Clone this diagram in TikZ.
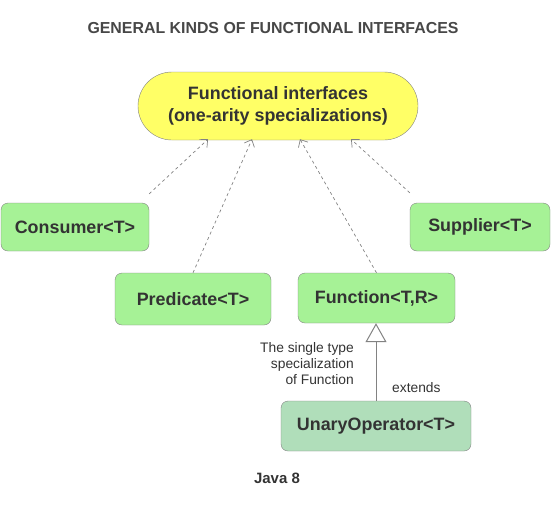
\documentclass[tikz,border=0pt]{standalone}
\usepackage{fontspec}
\setmainfont{Liberation Sans}
\usetikzlibrary{arrows.meta,positioning,calc}
\definecolor{txt}{RGB}{51,51,51}
\definecolor{edge}{RGB}{130,130,130}
\definecolor{boxgreen}{RGB}{166,242,150}
\definecolor{opgreen}{RGB}{176,222,186}
\definecolor{topyellow}{RGB}{255,255,102}
\tikzset{
  iface/.style={draw=edge,fill=boxgreen,rounded corners=7pt,inner sep=0pt,
    minimum height=48pt,text=txt,font=\fontsize{17.9}{21}\selectfont\bfseries},
  root/.style={draw=edge,fill=topyellow,rounded corners=34pt,inner sep=0pt,
    minimum width=280pt,minimum height=68pt,align=center,text=txt,
    font=\fontsize{17.9}{22}\selectfont\bfseries},
  dep/.style={-{Straight Barb[length=6pt,width=11pt]},edge,dashed,
    dash pattern=on 3pt off 3pt,line width=0.7pt},
  ext/.style={-{Triangle[open,length=19pt,width=21pt,fill=white]},edge,line width=1pt},
  note/.style={text=txt,inner sep=0pt,font=\fontsize{13.8}{16}\selectfont}
}
\begin{document}
\begin{tikzpicture}[x=1pt,y=-1pt]
  \useasboundingbox (0,0) rectangle (551,504);
  % title
  \node[text=txt!90!white,font=\fontsize{15.9}{18}\selectfont\bfseries] (title) at (273,28)
    {GENERAL KINDS OF FUNCTIONAL INTERFACES};
  % the common parent
  \node[root] (top) at (278,106) {Functional interfaces\\(one-arity specializations)};
  % the specializations
  \node[iface,minimum width=148pt] (cons) at (75,227) {Consumer<T>};
  \node[iface,minimum width=140pt] (supp) at (480,227) {Supplier<T>};
  \node[iface,minimum width=156pt,minimum height=52pt] (pred) at (193,299) {Predicate<T>};
  \node[iface,minimum width=157pt,minimum height=50pt] (func) at (376.5,298) {Function<T,R>};
  \node[iface,fill=opgreen,minimum width=190pt,minimum height=50pt] (unary) at (376,426)
    {UnaryOperator<T>};
  % where the dependency arrows meet the parent
  \coordinate (t1) at ([xshift=-70pt,yshift=1pt]top.south);
  \coordinate (t2) at ([xshift=-26pt,yshift=1pt]top.south);
  \coordinate (t3) at ([xshift=22pt,yshift=1pt]top.south);
  \coordinate (t4) at ([xshift=73pt,yshift=1pt]top.south);
  \draw[dep] ([yshift=9pt]cons.north east) -- (t1);
  \draw[dep] (pred.north) -- (t2);
  \draw[dep] (func.north) -- (t3);
  \draw[dep] ([yshift=10pt]supp.north west) -- (t4);
  % inheritance
  \draw[ext] (unary.north) -- (unary.north |- func.south);
  \node[note,align=right,anchor=east] (single) at (354,364)
    {The single type\\specialization\\of Function};
  \node[note,anchor=west] (extlbl) at (392,388) {extends};
  % footer
  \node[text=txt,font=\fontsize{15}{18}\selectfont\bfseries] (java) at (277,478) {Java 8};
\end{tikzpicture}
\end{document}
